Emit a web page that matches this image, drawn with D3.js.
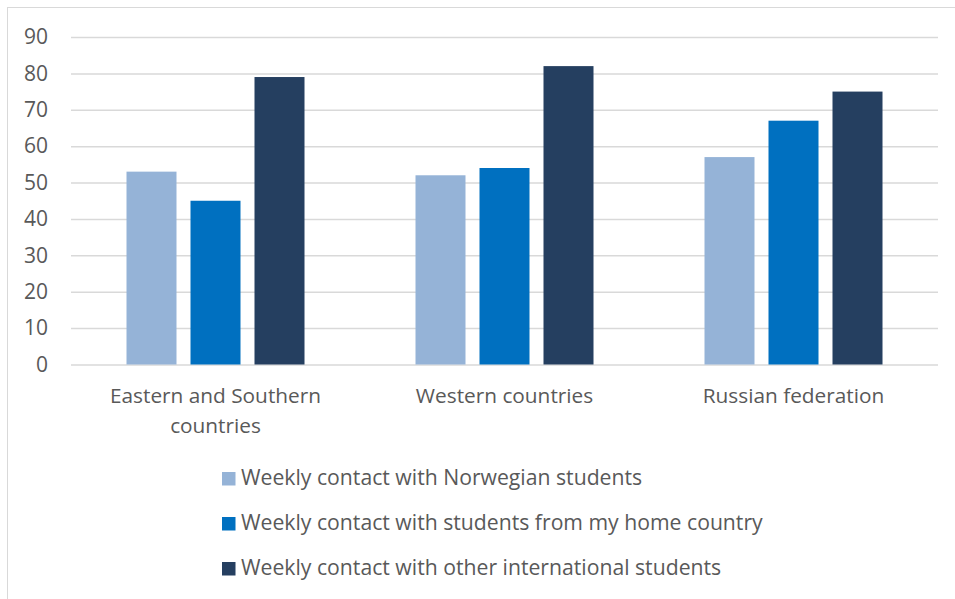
<!DOCTYPE html>
<html><head><meta charset="utf-8">
<script src="https://cdn.jsdelivr.net/npm/d3@7"></script>
<style>body{margin:0;background:#fff}svg{display:block}text{font-family:"Open Sans",sans-serif;fill:#595959}</style>
</head><body><svg id="c" width="955" height="599"></svg>
<script>
const categories = ["Eastern and Southern countries", "Western countries", "Russian federation"];
const categoryLines = [["Eastern and Southern", "countries"], ["Western countries"], ["Russian federation"]];
const seriesNames = ["Weekly contact with Norwegian students", "Weekly contact with students from my home country", "Weekly contact with other international students"];
const norwegian = [53, 52, 57];
const homeCountry = [45, 54, 67];
const otherIntl = [79, 82, 75];
const yTicks = [0, 10, 20, 30, 40, 50, 60, 70, 80, 90];
const colors = ["#95B3D7", "#0070C0", "#253F60"];
const series = [norwegian, homeCountry, otherIntl];

const svg = d3.select("#c");
svg.append("rect").attr("x", 7.5).attr("y", 7.5).attr("width", 960).attr("height", 600)
  .attr("fill", "none").attr("stroke", "#D9D9D9");

const pL = 71, pR = 938, pT = 37, pB = 364.5;
const y = d3.scaleLinear().domain([0, 90]).range([pB, pT]);
const x0 = d3.scaleBand().domain(categories).range([pL, pR]).paddingInner(0).paddingOuter(0);
const groupW = 178;
const x1 = d3.scaleBand().domain(d3.range(3)).range([0, groupW]).paddingInner(14/64).paddingOuter(0);

const yAxis = d3.axisLeft(y).tickValues(yTicks).tickSize(-(pR - pL)).tickPadding(23);
const ga = svg.append("g").attr("transform", `translate(${pL},0)`).call(yAxis);
ga.select(".domain").remove();
ga.selectAll(".tick line").attr("stroke", "#D9D9D9").attr("stroke-width", 1.5);
ga.selectAll(".tick text").attr("font-size", 21).attr("fill", "#595959").style("font-family", '"Open Sans",sans-serif');

const g = svg.append("g");
categories.forEach((c, i) => {
  const gx = x0(c) + x0.bandwidth() / 2 - groupW / 2;
  series.forEach((s, j) => {
    g.append("rect")
      .attr("x", gx + x1(j)).attr("width", x1.bandwidth())
      .attr("y", y(s[i])).attr("height", y(0) - y(s[i]))
      .attr("fill", colors[j]);
  });
  const t = svg.append("text").attr("text-anchor", "middle").attr("font-size", 20.8)
    .attr("x", x0(c) + x0.bandwidth() / 2).attr("y", 403);
  categoryLines[i].forEach((ln, k) => {
    t.append("tspan").attr("x", x0(c) + x0.bandwidth() / 2).attr("dy", k === 0 ? 0 : 30).text(ln);
  });
});

const lg = svg.append("g");
seriesNames.forEach((n, j) => {
  const cy = 478 + j * 45;
  lg.append("rect").attr("x", 222).attr("y", cy - 6).attr("width", 13.5).attr("height", 13.5).attr("fill", colors[j]);
  lg.append("text").attr("x", 241).attr("y", cy + 7).attr("font-size", 21.2).text(n);
});
</script></body></html>
